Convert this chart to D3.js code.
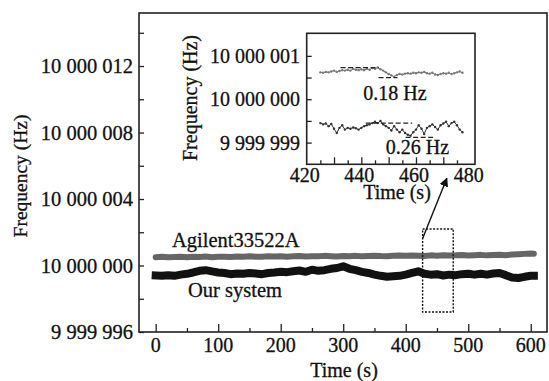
<!DOCTYPE html>
<html>
<head>
<meta charset="utf-8">
<script src="https://cdn.jsdelivr.net/npm/d3@7"></script>
<style>
  body { margin: 0; background: #fff; }
</style>
</head>
<body>
<div id="chart"></div>
<script>
/* nominal frequency, all series are stored as offsets from it (Hz) */
var nominal = 10000000;

/* main plot, one sample every 10 s */
var mainTimes = [0,10,20,30,40,50,60,70,80,90,100,110,120,130,140,150,160,170,180,190,
  200,210,220,230,240,250,260,270,280,290,300,310,320,330,340,350,360,370,380,390,
  400,410,420,430,440,450,460,470,480,490,500,510,520,530,540,550,560,570,580,590,600,605];
var agilentMain = [0.50,0.52,0.49,0.51,0.53,0.50,0.52,0.51,0.54,0.50,0.52,0.53,0.51,0.54,0.52,0.55,0.53,0.52,0.55,0.54,
  0.56,0.53,0.55,0.57,0.54,0.56,0.55,0.58,0.56,0.54,0.57,0.56,0.58,0.55,0.57,0.59,0.57,0.56,0.58,0.60,
  0.58,0.60,0.59,0.57,0.61,0.59,0.62,0.60,0.61,0.63,0.60,0.62,0.64,0.61,0.63,0.65,0.62,0.66,0.68,0.70,0.72,0.71];
var ourMain = [-0.60,-0.62,-0.58,-0.62,-0.55,-0.50,-0.42,-0.32,-0.28,-0.35,-0.42,-0.45,-0.52,-0.48,-0.50,-0.45,-0.48,-0.52,-0.45,-0.42,
  -0.38,-0.40,-0.35,-0.30,-0.38,-0.25,-0.32,-0.28,-0.20,-0.15,-0.05,-0.20,-0.28,-0.38,-0.45,-0.55,-0.62,-0.68,-0.65,-0.62,
  -0.55,-0.45,-0.35,-0.50,-0.55,-0.52,-0.60,-0.55,-0.58,-0.52,-0.50,-0.55,-0.50,-0.55,-0.48,-0.45,-0.58,-0.72,-0.75,-0.68,-0.62,-0.62];

/* inset, one sample per second */
var insetTimes = [425,426,427,428,429,430,431,432,433,434,435,436,437,438,439,440,441,442,443,444,445,446,447,448,449,450,
  451,452,453,454,455,456,457,458,459,460,461,462,463,464,465,466,467,468,469,470,471,472,473,474,475,476,477];
var agilentInset = [0.62,0.61,0.63,0.62,0.64,0.66,0.63,0.65,0.67,0.66,0.68,0.66,0.70,0.68,0.67,0.69,0.67,0.70,0.68,0.72,0.70,0.73,0.69,0.66,0.62,0.58,
  0.55,0.52,0.56,0.58,0.57,0.59,0.60,0.59,0.61,0.60,0.62,0.61,0.63,0.60,0.59,0.61,0.57,0.56,0.58,0.60,0.59,0.61,0.58,0.60,0.62,0.64,0.61];
var ourInset = [-0.55,-0.58,-0.56,-0.62,-0.57,-0.68,-0.78,-0.66,-0.60,-0.70,-0.66,-0.68,-0.65,-0.67,-0.70,-0.66,-0.62,-0.60,-0.58,-0.55,-0.52,-0.55,-0.50,-0.58,-0.62,-0.66,
  -0.72,-0.62,-0.70,-0.76,-0.70,-0.78,-0.82,-0.84,-0.76,-0.70,-0.60,-0.68,-0.80,-0.66,-0.62,-0.58,-0.64,-0.70,-0.60,-0.56,-0.52,-0.62,-0.55,-0.52,-0.60,-0.70,-0.76];

/* axis ticks and annotations */
var mainXTicks = [0,100,200,300,400,500,600];
var mainYTicks = [-4,0,4,8,12];
var insetXTicks = [420,440,460,480];
var insetYTicks = [-1,0,1];
var zoomBox = {t0: 427, t1: 476, f0: -2.8, f1: 2.2};
var driftLines = [
  {t0: 432.4, t1: 446.3, f: 0.73}, {t0: 446.3, t1: 453.2, f: 0.50},
  {t0: 441.6, t1: 458.6, f: -0.55}, {t0: 456.2, t1: 466.5, f: -0.88}
];
var driftLabels = [{t: 452.3, f: -0.02, text: '0.18 Hz'}, {t: 460.5, f: -1.27, text: '0.26 Hz'}];

var W = 549, H = 381;
var SERIF = '"Liberation Serif", "Times New Roman", Times, serif';
var fmtHz = function (d) {
  return d3.format(',')(nominal + d).replace(/,/g, ' ');
};

var svg = d3.select('#chart').append('svg')
  .attr('width', W).attr('height', H)
  .attr('font-family', SERIF);

/* plain text helper, all labels are serif, a hair of stroke to match the scan */
function label(g, x0, y0, size, str, anchor) {
  return g.append('text')
    .attr('x', x0).attr('y', y0)
    .attr('text-anchor', anchor || 'start')
    .attr('font-family', SERIF)
    .attr('font-size', size)
    .attr('fill', '#111')
    .attr('stroke', '#111').attr('stroke-width', 0.3)
    .text(str);
}

/* ---------- main plot ---------- */
var m = {l: 139, r: 547, t: 13, b: 332};
var x = d3.scaleLinear().domain([-26.7, 626]).range([m.l, m.r]);
var y = d3.scaleLinear().domain([-4, 15.19]).range([m.b, m.t]);

var main = svg.append('g');

main.append('g')
  .attr('transform', 'translate(0,' + m.b + ')')
  .call(d3.axisTop(x).tickValues(d3.range(0, 601, 50)).tickSize(4).tickFormat(''))
  .call(function (g) { g.select('.domain').remove(); })
  .selectAll('line').attr('stroke', '#222').attr('stroke-width', 1.3)
  .attr('y2', function (d) { return d % 100 === 0 ? -8 : -4; });

main.append('g')
  .attr('transform', 'translate(' + m.l + ',0)')
  .call(d3.axisRight(y).tickValues(d3.range(-4, 15, 2)).tickSize(5).tickFormat(''))
  .call(function (g) { g.select('.domain').remove(); })
  .selectAll('line').attr('stroke', '#222').attr('stroke-width', 1.3);

mainXTicks.forEach(function (d) {
  label(main, x(d), 352, 20, d, 'middle');
});
mainYTicks.forEach(function (d) {
  label(main, 133, y(d) + 7, 20.5, fmtHz(d), 'end');
});

label(main, 344, 377, 20, 'Time (s)', 'middle');
label(main, 0, 0, 19.5, 'Frequency (Hz)', 'middle')
  .attr('transform', 'translate(27,176) rotate(-90)');

var mainLine = function (vals) {
  return d3.line()
    .x(function (d, i) { return x(mainTimes[i]); })
    .y(function (d) { return y(d); })(vals);
};

main.append('path')
  .attr('d', mainLine(agilentMain))
  .attr('fill', 'none').attr('stroke', '#666')
  .attr('stroke-width', 6).attr('stroke-linejoin', 'round').attr('stroke-linecap', 'round');

main.append('path')
  .attr('d', mainLine(ourMain))
  .attr('fill', 'none').attr('stroke', '#111')
  .attr('stroke-width', 8).attr('stroke-linejoin', 'round').attr('stroke-linecap', 'square');

label(main, 172, 247, 20.5, 'Agilent33522A');
label(main, 188, 297, 20.5, 'Our system');

/* dotted zoom window */
main.append('rect')
  .attr('x', x(zoomBox.t0)).attr('y', y(zoomBox.f1))
  .attr('width', x(zoomBox.t1) - x(zoomBox.t0))
  .attr('height', y(zoomBox.f0) - y(zoomBox.f1))
  .attr('fill', 'none').attr('stroke', '#111')
  .attr('stroke-width', 1.4).attr('stroke-dasharray', '2,1.5');

main.append('rect')
  .attr('x', m.l).attr('y', m.t)
  .attr('width', m.r - m.l).attr('height', m.b - m.t)
  .attr('fill', 'none').attr('stroke', '#222').attr('stroke-width', 1.6);

/* ---------- inset ---------- */
var n = {l: 306.7, r: 475, t: 33.3, b: 164.3};
var xi = d3.scaleLinear().domain([420, 481.6]).range([n.l, n.r]);
var yi = d3.scaleLinear().domain([-1.5, 1.52]).range([n.b, n.t]);

var inset = svg.append('g');

inset.append('rect')
  .attr('x', n.l).attr('y', n.t)
  .attr('width', n.r - n.l).attr('height', n.b - n.t)
  .attr('fill', '#fff');

inset.append('g')
  .attr('transform', 'translate(0,' + n.b + ')')
  .call(d3.axisTop(xi).tickValues(d3.range(425, 480, 5)).tickSize(4).tickFormat(''))
  .call(function (g) { g.select('.domain').remove(); })
  .selectAll('line').attr('stroke', '#222').attr('stroke-width', 1.3)
  .attr('y2', function (d) { return d % 10 === 0 ? -7 : -4; });

inset.append('g')
  .attr('transform', 'translate(' + n.l + ',0)')
  .call(d3.axisRight(yi).tickValues([-1, -0.5, 0, 0.5, 1]).tickSize(5).tickFormat(''))
  .call(function (g) { g.select('.domain').remove(); })
  .selectAll('line').attr('stroke', '#222').attr('stroke-width', 1.3);

insetXTicks.forEach(function (d) {
  label(inset, xi(d) - 2, 182, 20, d, 'middle');
});
insetYTicks.forEach(function (d) {
  label(inset, 300, yi(d) + 7, 20, fmtHz(d), 'end');
});

label(inset, 397, 199, 20, 'Time (s)', 'middle');
label(inset, 0, 0, 20, 'Frequency (Hz)', 'middle')
  .attr('transform', 'translate(197,98) rotate(-90)');

var insetLine = d3.line()
  .x(function (d, i) { return xi(insetTimes[i]); })
  .y(function (d) { return yi(d); });

[[agilentInset, '#777'], [ourInset, '#333']].forEach(function (s) {
  inset.append('path')
    .attr('d', insetLine(s[0]))
    .attr('fill', 'none').attr('stroke', s[1]).attr('stroke-width', 1);
  inset.selectAll(null).data(s[0]).enter().append('circle')
    .attr('cx', function (d, i) { return xi(insetTimes[i]); })
    .attr('cy', function (d) { return yi(d); })
    .attr('r', 1.2)
    .attr('fill', s[1]);
});

inset.selectAll('line.drift').data(driftLines).enter().append('line')
  .attr('class', 'drift')
  .attr('x1', function (d) { return xi(d.t0); })
  .attr('x2', function (d) { return xi(d.t1); })
  .attr('y1', function (d) { return yi(d.f); })
  .attr('y2', function (d) { return yi(d.f); })
  .attr('stroke', '#222').attr('stroke-width', 1.2).attr('stroke-dasharray', '5,2.5');

driftLabels.forEach(function (d) {
  label(inset, xi(d.t), yi(d.f), 20, d.text, 'middle');
});

inset.append('rect')
  .attr('x', n.l).attr('y', n.t)
  .attr('width', n.r - n.l).attr('height', n.b - n.t)
  .attr('fill', 'none').attr('stroke', '#222').attr('stroke-width', 1.6);

/* arrow from zoom window up to the inset */
var ax0 = x(zoomBox.t0), ay0 = y(1.62);
var ax1 = xi(471.3), ay1 = n.b + 14;
svg.append('defs').append('marker')
  .attr('id', 'head')
  .attr('viewBox', '0 0 10 10')
  .attr('refX', 9).attr('refY', 5)
  .attr('markerWidth', 9).attr('markerHeight', 9)
  .attr('markerUnits', 'userSpaceOnUse')
  .attr('orient', 'auto')
  .append('path').attr('d', 'M0,0L10,5L0,10Z').attr('fill', '#111');

svg.append('line')
  .attr('x1', ax0).attr('y1', ay0)
  .attr('x2', ax1).attr('y2', ay1)
  .attr('stroke', '#111').attr('stroke-width', 1.4)
  .attr('marker-end', 'url(#head)');
</script>
</body>
</html>
